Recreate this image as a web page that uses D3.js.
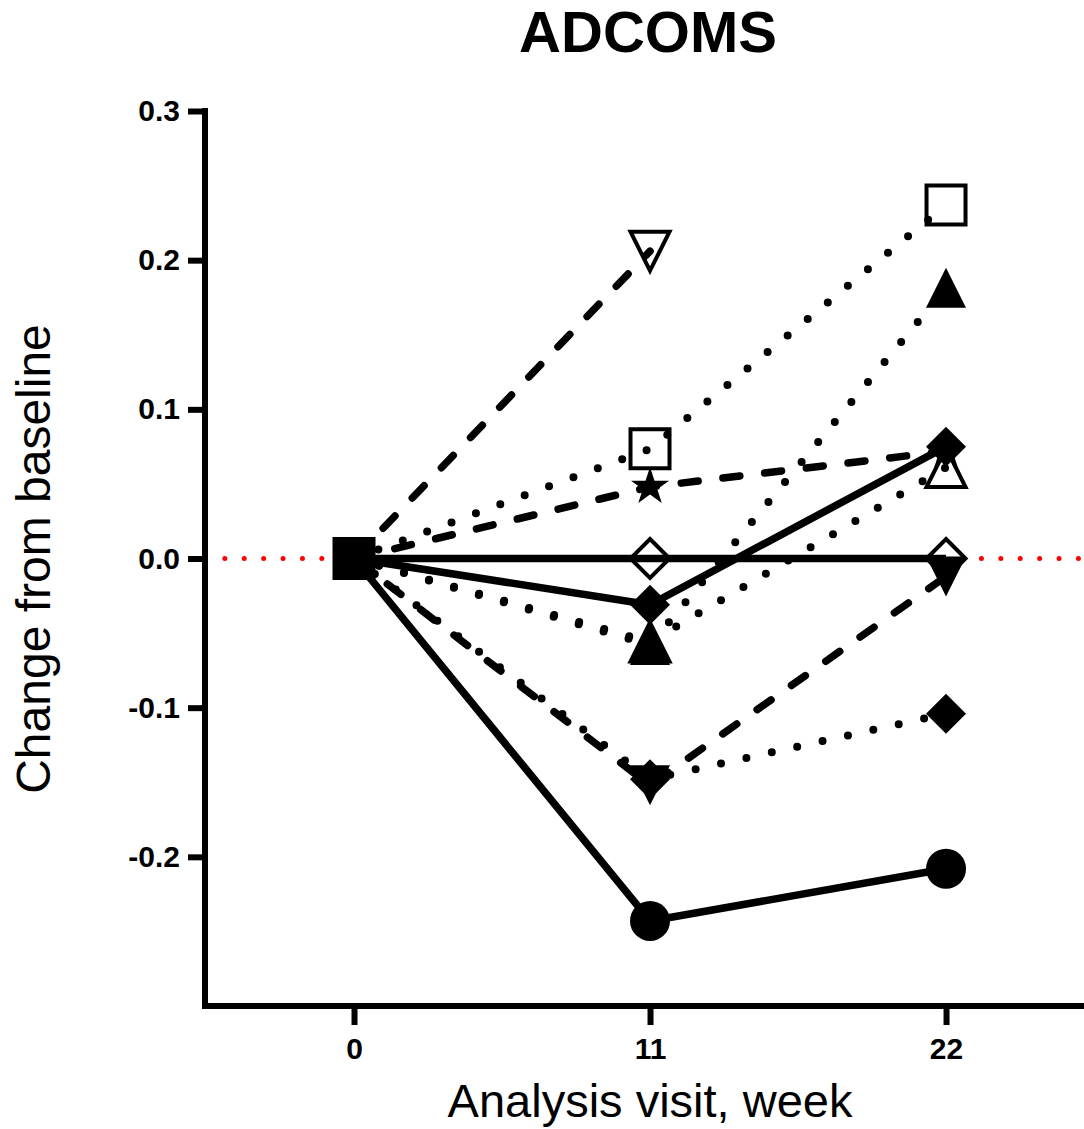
<!DOCTYPE html>
<html>
<head>
<meta charset="utf-8">
<script src="https://cdn.jsdelivr.net/npm/d3@7"></script>
<style>
  body { margin: 0; background: #fff; }
  svg { display: block; font-family: "Liberation Sans", Arial, sans-serif; }
</style>
</head>
<body>
<div id="plot"></div>
<script>
// Data

  var weeks = [0, 11, 22];
  var xTicks = [0, 11, 22];
  var yTicks = [-0.2, -0.1, 0, 0.1, 0.2, 0.3];

  var openTriDotted = [0, -0.056, 0.061];
  var filledTriDotted = [0, -0.058, 0.1815];
  var starDashed = [0, 0.048, 0.072];
  var diamondSolid = [0, -0.031, 0.075];
  var openDiamondSolid = [0, 0, 0];
  var diamondDotted = [0, -0.148, -0.104];
  var downTriDashed = [0, -0.152, -0.012];
  var openDownTriDashed = [0, 0.206, null];
  var openSquareDotted = [0, 0.0735, 0.237];
  var circleSolid = [0, -0.243, -0.208];

  var baselineWeek = [0];
  var baselineValue = [0];

  var w = 1084;
  var h = 1129;

// series table (drawing order matters for overlaps)

  var series = [
    {values: openTriDotted, shape: "triUp", open: true, dash: "dot"},
    {values: filledTriDotted, shape: "triUp", open: false, dash: "dot"},
    {values: starDashed, shape: "star", open: false, dash: "dash"},
    {values: diamondSolid, shape: "diamond", open: false, dash: "solid"},
    {values: openDiamondSolid, shape: "diamond", open: true, dash: "solid"},
    {values: diamondDotted, shape: "diamond", open: false, dash: "dot"},
    {values: downTriDashed, shape: "triDown", open: false, dash: "dash"},
    {values: openDownTriDashed, shape: "triDown", open: true, dash: "dash"},
    {values: openSquareDotted, shape: "square", open: true, dash: "dot"},
    {values: circleSolid, shape: "circle", open: false, dash: "solid"}
  ];

  var dashes = {solid: null, dash: "17,25", dot: "0,26"};
  var widths = {solid: 7.5, dash: 7.5, dot: 8};

  var xScale = d3.scaleLinear()
      .domain([-5.5, 27.5])
      .range([206, 206 + 33 * 26.91]);

  var yScale = d3.scaleLinear()
      .domain([-0.3, 0.3])
      .range([1006, 111]);

  function symbolPath(shape, r) {
    if (shape == "square") return `M${-r},${-r}h${2*r}v${2*r}h${-2*r}Z`;
    if (shape == "diamond") return `M0,${-r}L${r},0L0,${r}L${-r},0Z`;
    if (shape == "triUp") return `M0,${-r}L${r},${r}L${-r},${r}Z`;
    if (shape == "triDown") return `M0,${r}L${r},${-r}L${-r},${-r}Z`;
    if (shape == "circle") return `M${r},0A${r},${r} 0 1,1 ${-r},0A${r},${r} 0 1,1 ${r},0Z`;
    // five point star
    var pts = [];
    for (var k = 0; k < 10; k++) {
      var rad = k % 2 == 0 ? r : r * 0.382;
      var a = -Math.PI / 2 + k * Math.PI / 5;
      pts.push([rad * Math.cos(a), rad * Math.sin(a)]);
    }
    return "M" + pts.map(p => p.join(",")).join("L") + "Z";
  }

// add svg

  var svg = d3.select("div#plot")
    .append("svg")
      .attr("width", w)
      .attr("height", h);

  svg.append("rect")
      .attr("width", w)
      .attr("height", h)
      .attr("fill", "white");

// red reference line at zero

  svg.append("line")
      .attr("x1", xScale(-4.8))
      .attr("x2", xScale(27.5))
      .attr("y1", yScale(0))
      .attr("y2", yScale(0))
      .attr("stroke", "#ff0000")
      .attr("stroke-width", 5)
      .attr("stroke-linecap", "round")
      .attr("stroke-dasharray", "0,19.4");

// add series lines and markers

  var line = d3.line()
      .defined(d => d[1] != null)
      .x(d => xScale(d[0]))
      .y(d => yScale(d[1]));

  series.forEach(function(s) {
    var pts = weeks.map((wk, i) => [wk, s.values[i]]);
    var g = svg.append("g");

    g.append("path")
        .datum(pts)
        .attr("d", line)
        .attr("fill", "none")
        .attr("stroke", "black")
        .attr("stroke-width", widths[s.dash])
        .attr("stroke-linecap", s.dash == "solid" ? "butt" : "round")
        .attr("stroke-linejoin", "round")
        .attr("stroke-dasharray", dashes[s.dash]);

    var size = s.open ? 19.5 : 20;

    g.selectAll(".mark")
      .data(pts.filter(d => d[0] > 0 && d[1] != null))
      .enter().append("path")
        .attr("class", "mark")
        .attr("transform", d => `translate(${xScale(d[0])},${yScale(d[1])})`)
        .attr("d", symbolPath(s.shape, size))
        .attr("fill", s.open ? "none" : "black")
        .attr("stroke", "black")
        .attr("stroke-width", s.open ? 4 : 0)
        .attr("stroke-linejoin", "miter");
  });

// baseline marker at week 0

  svg.selectAll(".base")
    .data(baselineWeek.map((wk, i) => [wk, baselineValue[i]]))
    .enter().append("path")
      .attr("class", "base")
      .attr("transform", d => `translate(${xScale(d[0])},${yScale(d[1])})`)
      .attr("d", symbolPath("square", 21.5))
      .attr("fill", "black");

// add axes

  var yAxis = d3.axisLeft(yScale)
      .tickValues(yTicks)
      .tickSize(17)
      .tickSizeOuter(0)
      .tickPadding(8)
      .tickFormat(d => d.toFixed(1));

  var xAxis = d3.axisBottom(xScale)
      .tickValues(xTicks)
      .tickSize(19)
      .tickSizeOuter(0)
      .tickPadding(13)
      .tickFormat(d => d);

  var gy = svg.append("g")
      .attr("class", "yAxis")
      .attr("transform", "translate(205,0)")
      .call(yAxis);

  var gx = svg.append("g")
      .attr("class", "xAxis")
      .attr("transform", "translate(0,1006)")
      .call(xAxis);

  gx.select(".domain").attr("d", "M202,0H1090");
  gy.select(".domain").attr("d", "M0,108V1009");

  svg.selectAll(".domain")
      .attr("stroke", "black")
      .attr("stroke-width", 6);

  svg.selectAll(".tick line")
      .attr("stroke", "black")
      .attr("stroke-width", 6);

  svg.selectAll(".tick text")
      .attr("fill", "black")
      .attr("font-family", "'Liberation Sans', Arial, sans-serif")
      .attr("font-weight", "bold")
      .attr("font-size", "30px");

// titles

  svg.append("text")
      .attr("x", 648)
      .attr("y", 52)
      .attr("text-anchor", "middle")
      .attr("font-size", "58px")
      .attr("font-weight", "bold")
      .text("ADCOMS");

  svg.append("text")
      .attr("x", 650)
      .attr("y", 1117)
      .attr("text-anchor", "middle")
      .attr("font-size", "47px")
      .text("Analysis visit, week");

  svg.append("text")
      .attr("transform", "translate(50,559) rotate(-90)")
      .attr("text-anchor", "middle")
      .attr("font-size", "48px")
      .text("Change from baseline");
</script>
</body>
</html>
